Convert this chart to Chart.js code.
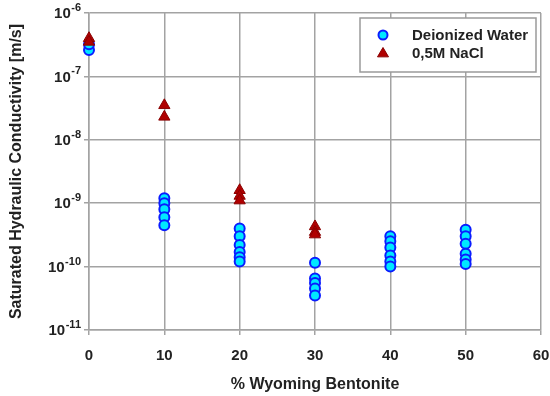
<!DOCTYPE html>
<html>
<head>
<meta charset="utf-8">
<script src="https://cdn.jsdelivr.net/npm/chart.js@4"></script>
<style>
  html, body { margin: 0; padding: 0; background: #fff; }
  #wrap { width: 550px; height: 396px; }
</style>
</head>
<body>
<div id="wrap"><canvas id="myChart"></canvas></div>
<script>
// bentonite content (%) and conductivity (m/s)
const waterX = [0, 0, 10, 10, 10, 10, 10, 20, 20, 20, 20, 20, 20, 30, 30, 30, 30, 30, 40, 40, 40, 40, 40, 40, 50, 50, 50, 50, 50, 50]
const waterY = [2.6e-7, 3.2e-7,
    1.2e-9, 1.0e-9, 8e-10, 6e-10, 4.5e-10,
    4e-10, 3e-10, 2.2e-10, 1.7e-10, 1.4e-10, 1.2e-10,
    1.15e-10, 6.5e-11, 5.5e-11, 4.5e-11, 3.5e-11,
    3e-10, 2.5e-10, 2e-10, 1.5e-10, 1.2e-10, 1.0e-10,
    3.8e-10, 3e-10, 2.3e-10, 1.6e-10, 1.3e-10, 1.1e-10]
const naclX = [0, 0, 10, 10, 20, 20, 20, 30, 30, 30]
const naclY = [4e-7, 3.5e-7, 3.5e-8, 2.3e-8, 1.6e-9, 1.3e-9, 1.1e-9, 4.3e-10, 3.5e-10, 3.2e-10]

const xTicks = [0, 10, 20, 30, 40, 50, 60]
const yExponents = [-11, -10, -9, -8, -7, -6]

const seriesLabels = ["Deionized Water", "0,5M NaCl"]

const toPoints = (xs, ys) => xs.map((x, i) => ({x: x, y: ys[i]}))

const textColor = '#222'
const gridColor = '#a3a3a3'
const fontFamily = '"Liberation Sans", Arial, sans-serif'

// y tick labels with superscript exponent + legend box inside plot
const customDraw = {
    id: 'customDraw',
    afterDraw(chart) {
        const ctx = chart.ctx
        const yScale = chart.scales.y
        ctx.save()
        ctx.fillStyle = textColor
        ctx.textBaseline = 'middle'
        yScale.ticks.forEach((t) => {
            const exp = String(Math.round(Math.log10(t.value)))
            const y = yScale.getPixelForValue(t.value)
            ctx.font = 'bold 11px ' + fontFamily
            const ew = ctx.measureText(exp).width
            ctx.textAlign = 'left'
            const right = 81
            ctx.fillText(exp, right - ew, y - 5)
            ctx.font = 'bold 15px ' + fontFamily
            ctx.textAlign = 'right'
            ctx.fillText('10', right - ew - 0.5, y + 1)
        })

        // legend
        const bx = 360, by = 18, bw = 176, bh = 54
        ctx.fillStyle = '#fff'
        ctx.fillRect(bx, by, bw, bh)
        ctx.strokeStyle = '#9a9a9a'
        ctx.lineWidth = 1.5
        ctx.strokeRect(bx, by, bw, bh)
        chart.data.datasets.forEach((ds, i) => {
            const cy = 35 + i * 18
            const cx = 383
            ctx.lineWidth = ds.borderWidth
            ctx.fillStyle = ds.backgroundColor
            ctx.strokeStyle = ds.borderColor
            ctx.beginPath()
            if (ds.pointStyle === 'triangle') {
                const r = 5.5
                ctx.moveTo(cx, cy - r)
                ctx.lineTo(cx + r, cy + r * 0.7)
                ctx.lineTo(cx - r, cy + r * 0.7)
                ctx.closePath()
            } else {
                ctx.arc(cx, cy, 4.5, 0, Math.PI * 2)
            }
            ctx.fill()
            ctx.stroke()
            ctx.fillStyle = textColor
            ctx.font = 'bold 15px ' + fontFamily
            ctx.textAlign = 'left'
            ctx.textBaseline = 'middle'
            ctx.fillText(ds.label, 412, cy + 1)
        })
        ctx.restore()
    }
}

new Chart("myChart", {
    type: "scatter",
    data: {
        datasets: [{
            label: seriesLabels[0],
            data: toPoints(waterX, waterY),
            pointStyle: 'circle',
            pointRadius: 5,
            backgroundColor: '#00e8ff',
            borderColor: '#0a1cff',
            borderWidth: 2,
            clip: false,
            order: 2
        }, {
            label: seriesLabels[1],
            data: toPoints(naclX, naclY),
            pointStyle: 'triangle',
            pointRadius: 6.5,
            backgroundColor: '#b00000',
            borderColor: '#8a0000',
            borderWidth: 1,
            clip: false,
            order: 1
        }]
    },
    options: {
        responsive: true,
        maintainAspectRatio: false,
        animation: false,
        layout: {padding: {top: 13, right: 9, left: 0, bottom: 0}},
        plugins: {
            legend: {display: false},
            tooltip: {enabled: false}
        },
        scales: {
            x: {
                type: 'linear',
                min: 0,
                max: 60,
                afterBuildTicks: (scale) => { scale.ticks = xTicks.map(v => ({value: v})) },
                afterFit: (scale) => {
                    scale.height = 66
                    scale.paddingLeft = 0
                    scale.paddingRight = 0
                },
                grid: {color: gridColor, lineWidth: 1.5, tickLength: 5},
                border: {color: gridColor, width: 1.5},
                ticks: {
                    color: textColor,
                    padding: 12,
                    font: {family: fontFamily, size: 15, weight: 'bold'}
                },
                title: {
                    display: true,
                    text: '% Wyoming Bentonite',
                    color: textColor,
                    padding: {top: 0, bottom: 2},
                    font: {family: fontFamily, size: 16, weight: 'bold'}
                }
            },
            y: {
                type: 'logarithmic',
                min: 1e-11,
                max: 1e-6,
                afterBuildTicks: (scale) => { scale.ticks = yExponents.map(e => ({value: Math.pow(10, e)})) },
                afterFit: (scale) => {
                    scale.width = 89
                    scale.paddingTop = 0
                    scale.paddingBottom = 0
                },
                grid: {color: gridColor, lineWidth: 1.5, tickLength: 5},
                border: {color: gridColor, width: 1.5},
                ticks: {display: false},
                title: {
                    display: true,
                    text: 'Saturated Hydraulic Conductivity [m/s]',
                    color: textColor,
                    padding: {top: 7, bottom: 0},
                    font: {family: fontFamily, size: 16, weight: 'bold'}
                }
            }
        }
    },
    plugins: [customDraw]
})
</script>
</body>
</html>
